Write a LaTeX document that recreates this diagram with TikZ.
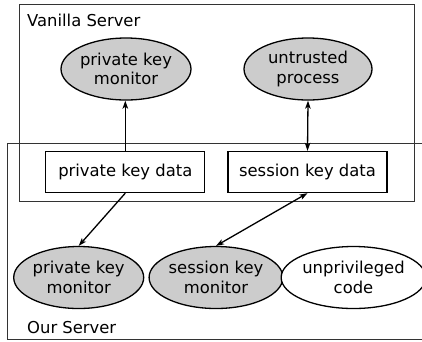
\documentclass[tikz,border=0pt]{standalone}
\usepackage{fontspec}
\setmainfont{DejaVu Sans}
\usetikzlibrary{shapes.geometric,arrows.meta}
\begin{document}
\begin{tikzpicture}[x=1pt,y=-1pt,
  every node/.style={font=\fontsize{16.4}{19.5}\selectfont},
  region/.style={draw=black!80,line width=1pt},
  proc/.style={ellipse,draw,line width=1.3pt,fill=black!20,minimum width=128pt,minimum height=62pt,inner sep=0pt,align=center},
  freeproc/.style={proc,fill=white},
  databox/.style={rectangle,draw,line width=1.3pt,fill=white,minimum width=159pt,minimum height=41pt,inner sep=0pt},
  conn/.style={line width=1.3pt,-{Stealth[length=8pt,width=5.5pt,inset=2pt]}},
  biconn/.style={line width=1.3pt,{Stealth[length=8pt,width=5.5pt,inset=2pt]}-{Stealth[length=8pt,width=5.5pt,inset=2pt]}}]
\useasboundingbox (0,0) rectangle (422,341);
\draw[region] (19.3,4) rectangle (414.7,201);
\draw[region] (430,143) -- (7.3,143) -- (7.3,339.5) -- (430,339.5);
\node[anchor=base west,inner sep=0pt] (vs) at (27,26) {Vanilla Server};
\node[anchor=base west,inner sep=0pt] (os) at (27,333) {Our Server};
\node[proc] (pkm1) at (126,69) {private key\\monitor};
\node[proc] (up) at (308,69) {untrusted\\process};
\node[databox] (pkd) at (125.3,172) {private key data};
\node[databox] (skd) at (307.5,172) {session key data};
\node[proc] (pkm2) at (78.7,277.5) {private key\\monitor};
\node[proc] (skm) at (216,277.5) {session key\\monitor};
\node[freeproc] (uc) at (353.5,277.5) {unprivileged\\code};
\draw[conn] (pkd.north) -- (pkd.north |- pkm1.south);
\draw[biconn] (up.south) -- (skd.north);
\draw[conn] (pkd.south) -- (pkm2.north);
\draw[biconn] (skd.south) -- (skm.north);
\end{tikzpicture}
\end{document}
